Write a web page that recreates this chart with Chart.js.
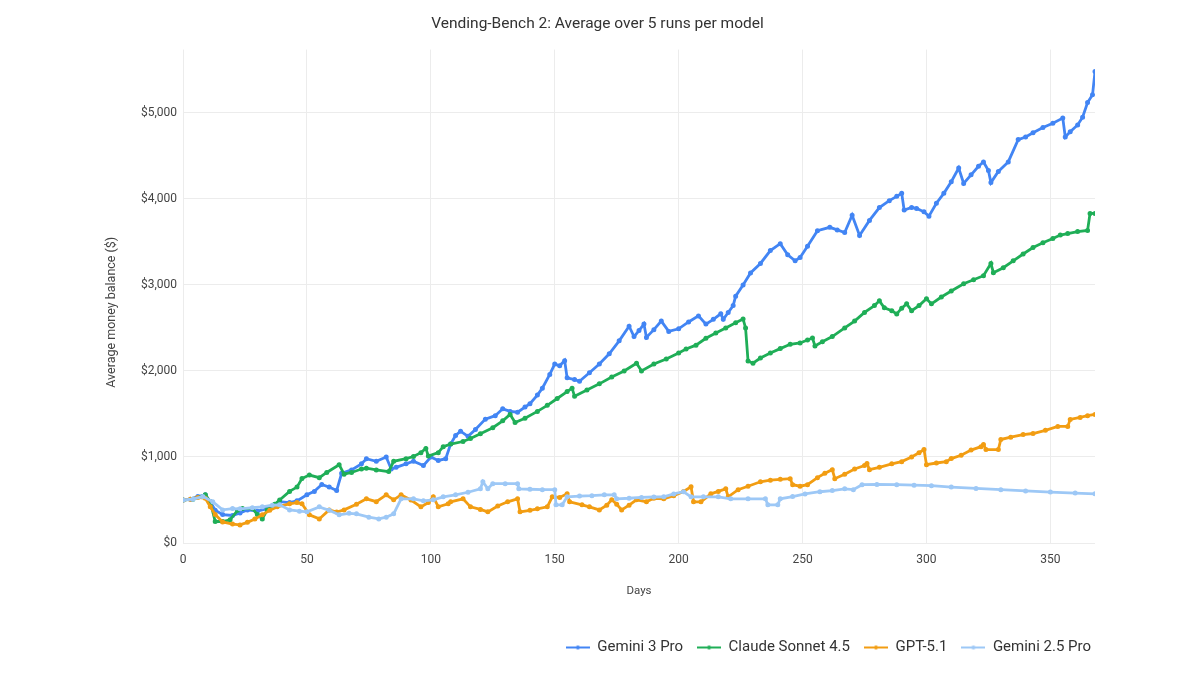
<!DOCTYPE html>
<html>
<head>
<meta charset="utf-8">
<title>Vending-Bench 2</title>
<script src="https://cdn.jsdelivr.net/npm/chart.js@4.4.1/dist/chart.umd.min.js"></script>
<style>
  html, body { margin: 0; padding: 0; background: #fff; }
  #wrap { width: 1200px; height: 675px; position: relative; }
</style>
</head>
<body>
<div id="wrap"><canvas id="benchChart"></canvas></div>
<script>
// values (day, average balance in $)
const gemini3Days = [0,3,6,9,11,13,16,20,23,26,30,34,39,43,46,50,53,56,59,62,64,68,72,74,78,82,84,86,90,93,97,100,103,106,108,110,112,115,118,122,126,129,132,135,138,140,143,145,148,150,152,154,155,158,160,164,168,172,176,180,182,184,186,187,190,193,196,200,204,208,211,214,217,218,220,222,223,226,229,233,237,241,244,247,249,252,256,261,264,267,270,273,277,281,285,288,290,291,294,296,299,301,304,307,310,313,315,318,321,323,325,326,329,333,337,340,343,347,351,355,356,358,361,363,365,367,368];
const gemini3Balance = [500,510,540,560,480,380,330,320,350,385,370,400,480,470,490,560,600,680,650,610,810,850,920,980,950,1000,860,880,920,950,900,1000,960,980,1150,1250,1300,1240,1320,1440,1480,1560,1530,1520,1580,1620,1720,1800,1960,2080,2060,2120,1920,1900,1880,1980,2080,2200,2350,2520,2400,2470,2545,2390,2480,2580,2460,2490,2570,2640,2545,2600,2665,2600,2680,2760,2870,3000,3140,3250,3400,3480,3350,3280,3320,3450,3630,3670,3640,3610,3810,3575,3750,3900,3980,4030,4065,3870,3900,3890,3850,3800,3950,4065,4200,4360,4180,4280,4380,4430,4330,4190,4320,4430,4690,4720,4770,4830,4880,4940,4720,4780,4860,4950,5120,5210,5480];

const claudeDays = [0,4,9,11,13,16,19,22,24,28,30,32,34,37,39,43,46,48,51,55,58,63,65,68,72,74,78,83,85,90,93,96,98,99,103,105,108,113,116,120,125,129,132,134,138,143,147,151,155,157,158,163,168,173,178,183,185,190,195,200,203,207,211,215,219,223,226,227,228,230,233,237,241,245,249,252,254,255,258,262,267,271,275,279,281,283,286,288,290,292,294,297,300,302,306,310,315,319,323,326,327,331,335,339,343,347,351,354,357,361,365,366,368];
const claudeBalance = [500,510,560,480,250,250,270,380,400,400,330,280,385,450,500,600,650,750,790,760,820,910,800,820,860,870,850,830,950,980,1005,1050,1100,1010,1050,1120,1150,1180,1215,1270,1340,1420,1495,1400,1450,1530,1600,1680,1760,1800,1705,1780,1850,1930,2000,2090,2000,2080,2140,2210,2255,2300,2380,2440,2500,2560,2605,2500,2115,2090,2150,2208,2260,2310,2325,2360,2383,2290,2340,2400,2500,2580,2680,2760,2815,2734,2700,2663,2730,2780,2700,2760,2840,2780,2860,2930,3014,3060,3107,3248,3142,3200,3280,3360,3435,3490,3540,3580,3598,3620,3633,3832,3832];

const gptDays = [0,3,6,9,11,13,16,20,23,26,29,32,35,38,43,46,48,51,55,59,62,65,70,74,78,82,85,88,92,96,99,101,103,107,108,113,116,120,123,127,131,135,136,140,143,147,149,152,155,156,161,164,168,171,173,175,177,180,183,187,190,194,198,202,205,206,209,213,216,219,220,224,228,233,237,241,245,246,249,252,256,259,262,263,267,271,275,276,277,281,286,290,294,297,299,300,304,308,310,314,318,322,323,324,329,330,334,339,343,348,353,357,358,362,365,368];
const gptBalance = [500,510,530,520,420,330,245,220,210,240,280,327,380,420,456,470,456,327,280,385,360,385,450,514,480,560,502,560,500,420,470,537,420,456,479,514,420,390,362,430,479,514,362,380,397,420,537,530,572,479,444,420,385,440,502,450,385,440,502,480,520,514,550,600,654,479,479,572,600,630,537,620,660,712,730,740,748,678,660,678,760,810,853,748,800,860,900,923,853,880,920,946,1000,1050,1086,911,930,946,981,1020,1080,1120,1145,1086,1086,1203,1230,1260,1273,1310,1355,1355,1437,1460,1480,1495];

const gemini25Days = [0,4,8,12,16,20,23,28,32,36,39,43,47,50,55,59,63,67,70,75,79,82,85,88,93,97,101,105,110,115,120,121,123,125,130,135,135.5,140,145,150,150.5,153,155,160,165,170,174,175,180,185,190,194,198,202,205,210,216,221,228,235,236,240,241,246,251,257,262,267,270.5,274,280,288,295,302,310,320,330,340,350,360,368];
const gemini25Balance = [500,510,540,479,385,400,397,410,420,440,444,385,370,362,420,380,327,345,339,300,280,300,339,514,514,490,502,537,560,590,630,712,630,690,690,690,630,625,620,620,444,444,537,545,550,560,560,514,520,530,535,537,570,596,537,537,537,514,514,514,444,444,514,540,570,596,610,630,620,678,680,678,672,666,650,635,620,605,592,580,572];

const xTicks = [0, 50, 100, 150, 200, 250, 300, 350];
const yTicks = [0, 1000, 2000, 3000, 4000, 5000];

const FONT = "Roboto, 'Open Sans', sans-serif";
const Y_TITLE = "Average money balance ($)";

const toPoints = (days, vals) => days.map((d, i) => ({ x: d, y: vals[i] }));

// little "line with a dot" marker for the legend
const legendMarker = (color) => {
  const c = document.createElement("canvas");
  c.width = 24;
  c.height = 10;
  const g = c.getContext("2d");
  g.strokeStyle = color;
  g.lineWidth = 2;
  g.beginPath();
  g.moveTo(0, 5);
  g.lineTo(24, 5);
  g.stroke();
  g.fillStyle = color;
  g.beginPath();
  g.arc(12, 5, 2, 0, Math.PI * 2);
  g.fill();
  return c;
};

const series = [
  { label: "Gemini 3 Pro", color: "#4285f4", data: toPoints(gemini3Days, gemini3Balance) },
  { label: "Claude Sonnet 4.5", color: "#1fae57", data: toPoints(claudeDays, claudeBalance) },
  { label: "GPT-5.1", color: "#f29d12", data: toPoints(gptDays, gptBalance) },
  { label: "Gemini 2.5 Pro", color: "#9dc8f6", data: toPoints(gemini25Days, gemini25Balance) },
];

const datasets = series.map((s, i) => ({
  label: s.label,
  data: s.data,
  borderColor: s.color,
  backgroundColor: s.color,
  borderWidth: 2.8,
  pointRadius: 1.1,
  pointHoverRadius: 3,
  pointStyle: "circle",
  legendMarker: legendMarker(s.color),
  tension: 0,
  fill: false,
  order: 4 - i,
}));

// nudge the legend so its last item ends flush with the plot's right edge
const legendShift = {
  id: "legendShift",
  afterLayout: (chart) => {
    chart.legend.left += 10;
    chart.legend.right += 10;
    chart.legend.top += 5;
    chart.legend.bottom += 5;
  },
};

// y axis title sits a bit below the middle of the plot in the original
const yTitle = {
  id: "yTitle",
  afterDraw: (chart) => {
    const { ctx, chartArea } = chart;
    ctx.save();
    ctx.translate(112, chartArea.top + (chartArea.bottom - chartArea.top) / 2 + 16);
    ctx.rotate(-Math.PI / 2);
    ctx.font = "12.5px " + FONT;
    ctx.fillStyle = "#444";
    ctx.textAlign = "center";
    ctx.textBaseline = "middle";
    ctx.fillText(Y_TITLE, 0, 0);
    ctx.restore();
  },
};

new Chart(document.getElementById("benchChart").getContext("2d"), {
  type: "line",
  data: { datasets },
  plugins: [legendShift, yTitle],
  options: {
    responsive: true,
    maintainAspectRatio: false,
    animation: false,
    devicePixelRatio: 1,
    layout: { padding: { left: 100, right: 105, top: 0, bottom: 15 } },
    plugins: {
      title: {
        display: true,
        text: "Vending-Bench 2: Average over 5 runs per model",
        color: "#333",
        font: { family: FONT, size: 15.5, weight: "normal" },
        padding: { top: 15, bottom: 16 },
      },
      legend: {
        position: "bottom",
        align: "end",
        labels: {
          usePointStyle: true,
          pointStyleWidth: 24,
          color: "#333",
          font: { family: FONT, size: 15 },
          padding: 14,
          generateLabels: (chart) =>
            chart.data.datasets.map((d, i) => ({
              text: d.label,
              pointStyle: d.legendMarker,
              fillStyle: d.borderColor,
              strokeStyle: d.borderColor,
              lineWidth: 0,
              hidden: false,
              datasetIndex: i,
              fontColor: "#333",
            })),
        },
      },
      tooltip: { enabled: false },
    },
    scales: {
      x: {
        type: "linear",
        min: 0,
        max: 368,
        afterFit: (scale) => { scale.height = 78; },
        afterBuildTicks: (scale) => { scale.ticks = xTicks.map((v) => ({ value: v })); },
        ticks: {
          includeBounds: false,
          padding: 10,
          color: "#444",
          font: { family: FONT, size: 12 },
          maxRotation: 0,
        },
        grid: { color: "#ececec", drawTicks: false },
        border: { display: false },
        title: {
          display: true,
          text: "Days",
          color: "#444",
          font: { family: FONT, size: 11.5 },
          padding: { top: 4, bottom: 23 },
        },
      },
      y: {
        min: 0,
        max: 5736,
        afterFit: (scale) => { scale.width = 83; },
        afterBuildTicks: (scale) => { scale.ticks = yTicks.map((v) => ({ value: v })); },
        ticks: {
          includeBounds: false,
          padding: 6,
          color: "#444",
          font: { family: FONT, size: 12 },
          callback: (v) => "$" + Number(v).toLocaleString("en-US"),
        },
        grid: { color: "#ececec", drawTicks: false },
        border: { display: false },
        title: { display: false },
      },
    },
  },
});
</script>
</body>
</html>
